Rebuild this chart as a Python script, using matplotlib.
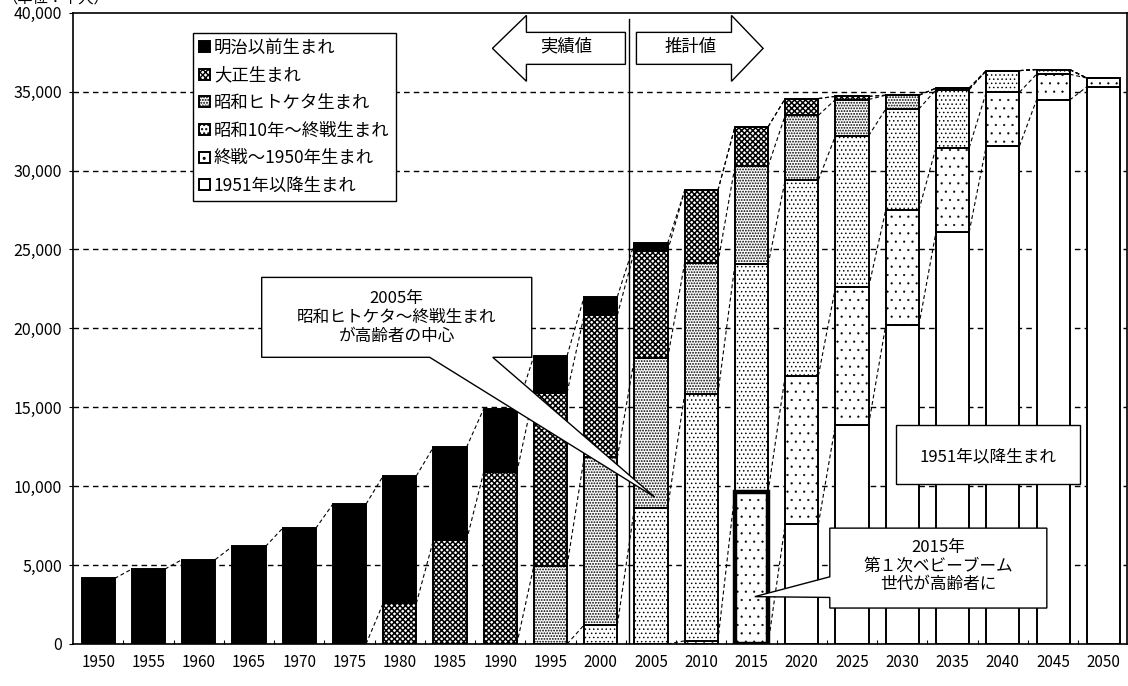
import matplotlib
matplotlib.use("Agg")
import numpy as np
import matplotlib.pyplot as plt
from matplotlib.patches import Polygon, Rectangle
from matplotlib.ticker import FuncFormatter, FixedLocator

plt.rcParams['font.family'] = ['Noto Sans CJK JP', 'DejaVu Sans']

# 高齢者人口（千人）: 生まれ年別
years = [1950, 1955, 1960, 1965, 1970, 1975, 1980, 1985, 1990, 1995, 2000,
         2005, 2010, 2015, 2020, 2025, 2030, 2035, 2040, 2045, 2050]
meiji = [4155, 4747, 5350, 6181, 7331, 8865, 8077, 5898, 4025, 2331, 1165,
         490, 0, 0, 0, 0, 0, 0, 0, 0, 0]
taisho = [0, 0, 0, 0, 0, 0, 2570, 6570, 10870, 10970, 9020,
          6800, 4585, 2500, 1060, 200, 0, 0, 0, 0, 0]
hitoketa = [0, 0, 0, 0, 0, 0, 0, 0, 0, 4960, 10610,
            9500, 8310, 6220, 4100, 2300, 870, 100, 0, 0, 0]
showa10 = [0, 0, 0, 0, 0, 0, 0, 0, 0, 0, 1210,
           8600, 15640, 14410, 12400, 9600, 6400, 3670, 1370, 300, 0]
postwar = [0, 0, 0, 0, 0, 0, 0, 0, 0, 0, 0,
           0, 200, 9640, 9400, 8700, 7300, 5350, 3410, 1630, 560]
after1951 = [0, 0, 0, 0, 0, 0, 0, 0, 0, 0, 0,
             0, 0, 0, 7600, 13900, 20200, 26100, 31550, 34470, 35300]

labels = ["明治以前生まれ", "大正生まれ", "昭和ヒトケタ生まれ",
          "昭和10年～終戦生まれ", "終戦～1950年生まれ", "1951年以降生まれ"]
series = [meiji, taisho, hitoketa, showa10, postwar, after1951]
hatches = [None, 'xxxxxx', '......', '....', '..', None]
hatch_lw = [1.0, 1.1, 0.9, 0.55, 0.35, 1.0]
faces = ['black', 'white', 'white', 'white', 'white', 'white']

fig = plt.figure(figsize=(11.28, 6.86), dpi=100)
ax = fig.add_axes([73 / 1128, 1 - 644 / 686, (1127 - 73) / 1128, (644 - 12.7) / 686])

x = np.arange(len(years))
w = 0.66

# 若い世代を下に積み上げる
bottom = np.zeros(len(years))
tops = []
handles = {}
for k in range(len(series) - 1, -1, -1):
    vals = np.array(series[k], dtype=float)
    with plt.rc_context({'hatch.linewidth': hatch_lw[k]}):
        bars = ax.bar(x, vals, w, bottom=bottom, color=faces[k], hatch=hatches[k],
                      edgecolor='black', linewidth=1.4, label=labels[k], zorder=2)
    for b in bars:
        if hasattr(b, 'set_hatch_linewidth'):
            b.set_hatch_linewidth(hatch_lw[k])
    handles[k] = bars
    bottom = bottom + vals
    tops.append(bottom.copy())

# 2015年 第1次ベビーブーム世代を太枠で強調
i15 = years.index(2015)
base15 = after1951[i15]
ax.bar(x[i15], postwar[i15], w, bottom=base15, facecolor='none',
       edgecolor='black', linewidth=3.2, zorder=3)

# 区分線（系列線）
for top in tops:
    for i in range(len(years) - 1):
        ax.plot([x[i] + w / 2, x[i + 1] - w / 2], [top[i], top[i + 1]],
                color='black', lw=0.8, ls=(0, (3.5, 2.5)), zorder=1)

ax.set_xlim(-0.5, 20.47)
ax.set_ylim(0, 40000)
ax.set_yticks(np.arange(0, 40001, 5000))
ax.yaxis.set_major_formatter(FuncFormatter(lambda v, p: f"{v:,.0f}"))
ax.set_xticks(x)
ax.set_xticklabels([str(y) for y in years])
ax.xaxis.set_minor_locator(FixedLocator(x[:-1] + 0.5))
ax.tick_params(axis='x', which='major', length=0, labelsize=11, pad=7)
ax.tick_params(axis='x', which='minor', direction='in', length=3, width=0.8)
ax.tick_params(axis='y', length=3, labelsize=11.5, pad=5)
for sp in ax.spines.values():
    sp.set_linewidth(1.2)

for v in np.arange(5000, 40000, 5000):
    ax.axhline(v, color='black', lw=1.0, ls=(0, (4, 3)), zorder=0)

# 実績値 / 推計値 の境界
ax.plot([10.557, 10.557], [0, 39600], color='black', lw=1.0, zorder=4)


def block_arrow(tail, base, tip, yc, bh, hh):
    return Polygon([(tail, yc + bh), (base, yc + bh), (base, yc + hh), (tip, yc),
                    (base, yc - hh), (base, yc - bh), (tail, yc - bh)],
                   closed=True, facecolor='white', edgecolor='black', lw=1.0, zorder=5)


ax.add_patch(block_arrow(10.491, 8.521, 7.845, 37740, 1013, 2089))
ax.add_patch(block_arrow(10.710, 12.601, 13.230, 37740, 1013, 2089))
ax.text(9.303, 37850, "実績値", ha='center', va='center', fontsize=12.5, zorder=6)
ax.text(11.791, 37850, "推計値", ha='center', va='center', fontsize=12.5, zorder=6)

# 吹き出し
call1 = Polygon([(3.254, 23228), (8.627, 23228), (8.627, 18165), (7.851, 18165),
                 (11.075, 9304), (6.597, 18165), (3.254, 18165)],
                closed=True, facecolor='white', edgecolor='black', lw=1.0, zorder=6)
ax.add_patch(call1)
ax.text(5.94, 20700, "2005年\n昭和ヒトケタ～終戦生まれ\nが高齢者の中心", ha='center',
        va='center', fontsize=12, linespacing=1.15, zorder=7)

call2 = Polygon([(14.557, 7342), (18.875, 7342), (18.875, 2278), (14.557, 2278),
                 (14.557, 2950), (13.065, 3000), (14.557, 4259)],
                closed=True, facecolor='white', edgecolor='black', lw=1.0, zorder=6)
ax.add_patch(call2)
ax.text(16.716, 4950, "2015年\n第１次ベビーブーム\n世代が高齢者に", ha='center',
        va='center', fontsize=12, linespacing=1.1, zorder=7)

ax.add_patch(Rectangle((15.871, 10127), 19.532 - 15.871, 13861 - 10127,
                       facecolor='white', edgecolor='black', lw=1.0, zorder=6))
ax.text(17.70, 11850, "1951年以降生まれ", ha='center', va='center', fontsize=12, zorder=7)

leg = ax.legend([handles[k] for k in range(len(series))], labels,
                loc='upper left', bbox_to_anchor=(0.1139, 0.968), borderaxespad=0,
                fancybox=False, edgecolor='black', framealpha=1, fontsize=12.5,
                handlelength=0.6, handleheight=0.6, handletextpad=0.25,
                labelspacing=0.55, borderpad=0.35)
leg.get_frame().set_linewidth(1.0)
leg.set_zorder(8)

fig.text(0.002, 1 - 3 / 686, "（単位：千人）", fontsize=11, va='baseline', ha='left')

fig.savefig("out.png", dpi=100)
